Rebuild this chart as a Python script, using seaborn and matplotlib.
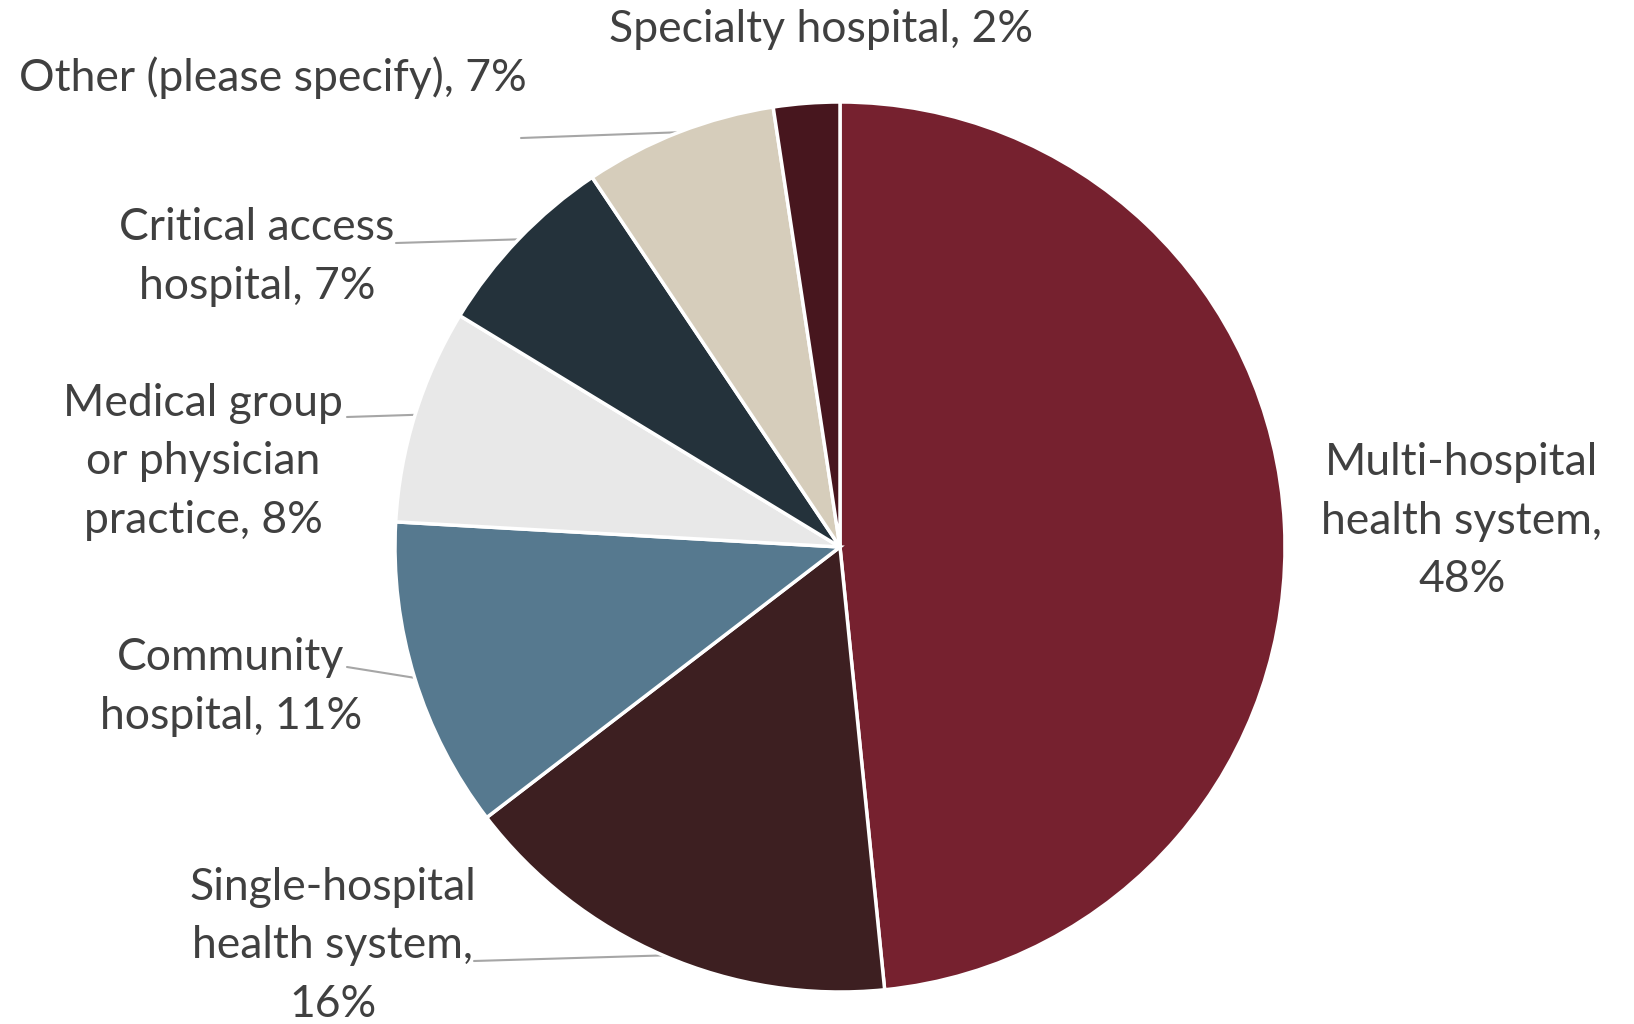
import matplotlib
matplotlib.use("Agg")
import matplotlib.pyplot as plt
import seaborn as sns
import numpy as np

# ---- data ----
categories = ["Multi-hospital health system", "Single-hospital health system",
              "Community hospital", "Medical group or physician practice",
              "Critical access hospital", "Other (please specify)", "Specialty hospital"]
shares = [48.4, 16.2, 11.3, 7.8, 6.9, 7.0, 2.4]
display_labels = ["Multi-hospital\nhealth system,\n48%",
                  "Single-hospital\nhealth system,\n16%",
                  "Community\nhospital, 11%",
                  "Medical group\nor physician\npractice, 8%",
                  "Critical access\nhospital, 7%",
                  "Other (please specify), 7%",
                  "Specialty hospital, 2%"]
colors = ["#76212F", "#3D1F21", "#56798F", "#E8E8E8", "#24323B", "#D6CDBB", "#47161E"]

# ---- layout (pixel coordinates, y up) ----
W, H = 1634, 1024
center = (840, 477)
radius = 445
label_pos = [(1462, 503), (333, 78), (231, 337), (203, 562), (257, 767), (273, 946), (821, 995)]
leader_start = [None, (474, 63), (347, 357), (347, 607), (396, 781), (521, 886), None]

sns.set_theme(style="white")
plt.rcParams['font.family'] = ['Lato', 'DejaVu Sans']

fig = plt.figure(figsize=(W / 100, H / 100), dpi=100)
ax = fig.add_axes([0, 0, 1, 1])
ax.set_xlim(0, W)
ax.set_ylim(0, H)
ax.set_axis_off()

wedges, _ = ax.pie(shares, colors=colors, startangle=90, counterclock=False,
                   center=center, radius=radius,
                   wedgeprops=dict(edgecolor="white", linewidth=2.5))
ax.set_xlim(0, W)
ax.set_ylim(0, H)
ax.set_aspect("equal")

for w, lab, pos, ls in zip(wedges, display_labels, label_pos, leader_start):
    ax.text(pos[0], pos[1], lab, ha="center", va="center", fontsize=32,
            color="#404040", linespacing=1.53, multialignment="center")
    if ls is not None:
        mid = np.deg2rad((w.theta1 + w.theta2) / 2)
        ex = center[0] + radius * np.cos(mid)
        ey = center[1] + radius * np.sin(mid)
        ax.plot([ls[0], ex], [ls[1], ey], color="#A6A6A6", lw=1.5, zorder=0.5)

fig.savefig("out.png", dpi=100)
